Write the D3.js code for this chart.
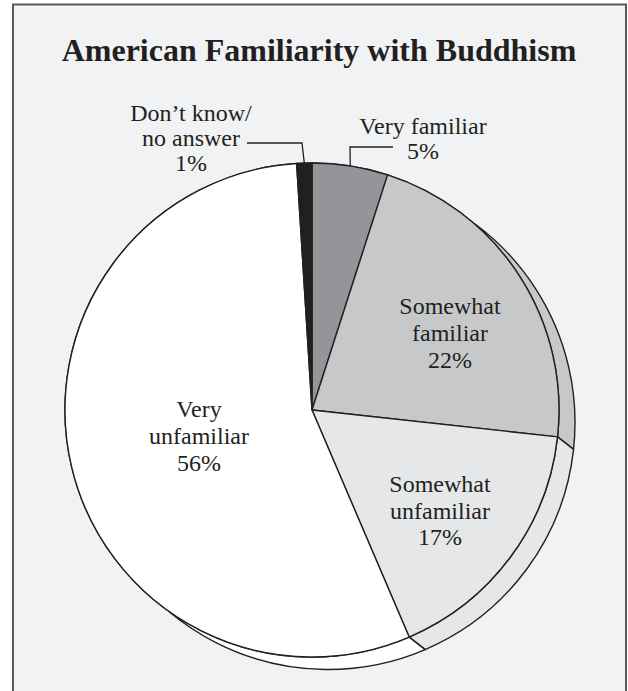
<!DOCTYPE html>
<html>
<head>
<meta charset="utf-8">
<script src="https://cdn.jsdelivr.net/npm/d3@7"></script>
<style>
  html, body { margin: 0; padding: 0; background: #ffffff; }
  svg { display: block; }
</style>
</head>
<body>
<svg id="chart" width="628" height="691"></svg>
<script>
// ---- data ----
const categories = ["Very familiar", "Somewhat familiar", "Somewhat unfamiliar", "Very unfamiliar", "Don\u2019t know/ no answer"];
const values = [5, 22, 17, 56, 1];
const labelLines = [
  ["Very familiar", "5%"],
  ["Somewhat", "familiar", "22%"],
  ["Somewhat", "unfamiliar", "17%"],
  ["Very", "unfamiliar", "56%"],
  ["Don\u2019t know/", "no answer", "1%"]
];
const colors = ["#939598", "#c7c8ca", "#e6e7e8", "#ffffff", "#231f20"];
const title = "American Familiarity with Buddhism";

// ---- layout ----
const W = 628, H = 691;
const cx = 312, cy = 410, R = 247;
const depth = [16, 12.5];
const ink = "#231f20";
const fontFam = "'Liberation Serif', 'Times New Roman', serif";

const svg = d3.select("#chart");

// frame
svg.append("rect").attr("x", 13).attr("y", 4.5).attr("width", 613).attr("height", 700)
  .attr("fill", "#f1f2f4").attr("stroke", "#58595b").attr("stroke-width", 2);

svg.append("text").attr("x", 319).attr("y", 61).attr("text-anchor", "middle")
  .attr("font-family", fontFam).attr("font-weight", "bold").attr("font-size", 32)
  .attr("fill", ink).text(title);

const pie = d3.pie().sort(null).value(d => d)(values);
const arc = d3.arc().innerRadius(0).outerRadius(R);

const g = svg.append("g").attr("transform", `translate(${cx},${cy})`);

// side (depth) faces
const pt = (a, ox, oy) => [ox + R * Math.sin(a), oy - R * Math.cos(a)];
const side = g.append("g");
pie.forEach((p, i) => {
  const path = d3.path();
  const t0 = pt(p.startAngle, 0, 0);
  const b1 = pt(p.endAngle, depth[0], depth[1]);
  path.moveTo(t0[0], t0[1]);
  path.arc(0, 0, R, p.startAngle - Math.PI / 2, p.endAngle - Math.PI / 2, false);
  path.lineTo(b1[0], b1[1]);
  path.arc(depth[0], depth[1], R, p.endAngle - Math.PI / 2, p.startAngle - Math.PI / 2, true);
  path.closePath();
  side.append("path").attr("d", path.toString())
    .attr("fill", colors[i]).attr("stroke", ink).attr("stroke-width", 1.4)
    .attr("stroke-linejoin", "round");
});

// top face
g.selectAll("path.slice").data(pie).join("path").attr("class", "slice")
  .attr("d", arc).attr("fill", (d, i) => colors[i])
  .attr("stroke", ink).attr("stroke-width", 1.4).attr("stroke-linejoin", "round");

// labels (positions relative to pie centre: x, first baseline, line gap)
const labelPos = [
  [111, -276, 25],
  [138, -96, 27],
  [128, 82, 26.5],
  [-113, 7, 27],
  [-121, -289, 25]
];
labelLines.forEach((lines, i) => {
  const [lx, ly, gap] = labelPos[i];
  const t = g.append("text").attr("text-anchor", "middle")
    .attr("font-family", fontFam).attr("font-size", 24).attr("fill", ink);
  lines.forEach((s, j) => {
    t.append("tspan").attr("x", lx).attr("y", ly + j * gap).text(s);
  });
});

// leader lines for the small outside-labelled slices
const midA = p => (p.startAngle + p.endAngle) / 2;
const leader = (p, elbowX, elbowY, endX) => {
  const e = pt(midA(p), 0, 0);
  g.append("path")
    .attr("d", d3.line()([[e[0], e[1]], [elbowX, elbowY], [endX, elbowY]]))
    .attr("fill", "none").attr("stroke", ink).attr("stroke-width", 1.3);
};
leader(pie[0], 38, -263, 81);
leader(pie[4], -10, -267, -65);
</script>
</body>
</html>
